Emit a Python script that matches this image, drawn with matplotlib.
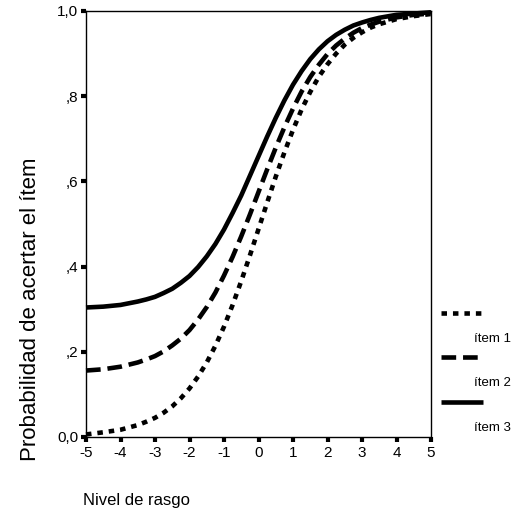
import matplotlib
matplotlib.use("Agg")
import matplotlib.pyplot as plt
from matplotlib.lines import Line2D

plt.rcParams["font.family"] = ["Liberation Sans", "DejaVu Sans"]

# Nivel de rasgo (theta) and probability of a correct answer
theta = [-5.0, -4.5, -4.0, -3.5, -3.25, -3.0, -2.75, -2.5, -2.25, -2.0, -1.75, -1.5,
         -1.25, -1.0, -0.75, -0.5, -0.25, 0.0, 0.25, 0.5, 0.75, 1.0, 1.25, 1.5,
         1.75, 2.0, 2.25, 2.5, 2.75, 3.0, 3.25, 3.5, 4.0, 4.5, 5.0]
item1 = [0.006, 0.011, 0.017, 0.028, 0.036, 0.045, 0.057, 0.072, 0.091, 0.114, 0.142, 0.175,
         0.214, 0.259, 0.310, 0.366, 0.426, 0.488, 0.550, 0.611, 0.668, 0.721, 0.769, 0.810,
         0.846, 0.875, 0.900, 0.921, 0.937, 0.950, 0.961, 0.969, 0.981, 0.988, 0.993]
item2 = [0.156, 0.159, 0.165, 0.175, 0.182, 0.190, 0.201, 0.215, 0.231, 0.251, 0.276, 0.305,
         0.339, 0.379, 0.423, 0.471, 0.522, 0.575, 0.628, 0.679, 0.727, 0.771, 0.811, 0.845,
         0.874, 0.899, 0.919, 0.935, 0.949, 0.960, 0.968, 0.975, 0.985, 0.991, 0.994]
item3 = [0.304, 0.306, 0.310, 0.318, 0.323, 0.329, 0.338, 0.348, 0.362, 0.378, 0.399, 0.424,
         0.453, 0.487, 0.526, 0.567, 0.613, 0.659, 0.705, 0.749, 0.790, 0.827, 0.859, 0.887,
         0.910, 0.929, 0.944, 0.956, 0.966, 0.973, 0.979, 0.984, 0.991, 0.994, 0.997]
labels = ["ítem 1", "ítem 2", "ítem 3"]

x_ticks = [-5, -4, -3, -2, -1, 0, 1, 2, 3, 4, 5]
y_ticks = [0.0, 0.2, 0.4, 0.6, 0.8, 1.0]
y_ticklabels = ["0,0", ",2", ",4", ",6", ",8", "1,0"]

W, H = 516, 514
fig = plt.figure(figsize=(W / 100, H / 100), dpi=100)
ax = fig.add_axes([86 / W, 1 - 437 / H, (431 - 86) / W, (437 - 11) / H])

styles = [
    dict(dashes=(1.2, 1.3)),
    dict(dashes=(3.2, 1.5)),
    dict(linestyle="-"),
]
series = [item1, item2, item3]
for vals, st in zip(series, styles):
    ax.plot(theta, vals, color="black", lw=3.3, solid_capstyle="butt",
            dash_capstyle="butt", solid_joinstyle="round", clip_on=False, **st)

ax.set_xlim(-5, 5)
ax.set_ylim(0, 1)
ax.set_xticks(x_ticks)
ax.set_xticklabels([str(t) for t in x_ticks])
ax.set_yticks(y_ticks)
ax.set_yticklabels(y_ticklabels)
ax.tick_params(direction="out", length=3.5, width=3, labelsize=11, pad=2)
ax.tick_params(axis="x", pad=3)
for sp in ax.spines.values():
    sp.set_linewidth(1.0)

ax.set_ylabel("Probabilidad de acertar el ítem", fontsize=16)
ax.yaxis.set_label_coords(-0.16, 0.30)
ax.yaxis.label.set_verticalalignment("center")
ax.set_xlabel("Nivel de rasgo", fontsize=12)
ax.xaxis.set_label_coords(0.145, -0.15)
ax.xaxis.label.set_verticalalignment("center")

# legend laid out like the original: sample line above, label below it
line_y = [313, 357, 402]
for lab, st, ly in zip(labels, styles, line_y):
    fig.add_artist(Line2D([441 / W, 483 / W], [1 - ly / H, 1 - ly / H],
                          color="black", lw=3.3, solid_capstyle="butt",
                          dash_capstyle="butt", **st))
    fig.text(474 / W, 1 - (ly + 26) / H, lab, fontsize=9.5,
             ha="left", va="center")

fig.savefig("out.png", dpi=100)
